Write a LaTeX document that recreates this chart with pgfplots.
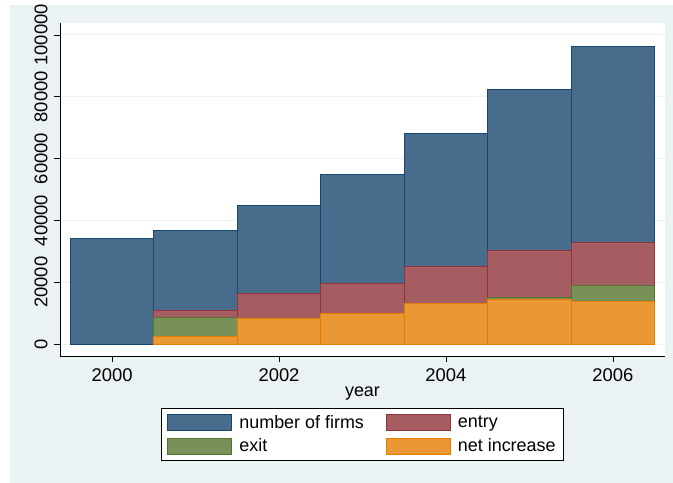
\documentclass[border=0pt]{standalone}
\usepackage{pgfplots}
\pgfplotsset{compat=1.18}
\usepackage{fontspec}
\setmainfont{Liberation Sans}

\definecolor{sbg}{RGB}{234,242,243}
\definecolor{snavy}{RGB}{26,71,111}
\definecolor{smaroon}{RGB}{144,53,59}
\definecolor{sgreen}{RGB}{85,117,47}
\definecolor{sorange}{RGB}{227,126,0}

\pgfplotsset{
  sbar/.style={ybar, bar width=1, bar shift=0pt, line width=1bp,
    legend image code/.code={\draw[##1] (0bp,-8bp) rectangle (64bp,8bp);}},
}

\begin{document}
\begin{tikzpicture}
\fill[white] (0,0) rectangle (673bp,483bp);
\fill[sbg] (10bp,0) rectangle (673bp,478bp);
\begin{axis}[
  at={(60bp,127bp)}, anchor=south west,
  scale only axis, width=605bp, height=333bp,
  axis background/.style={fill=white},
  xmin=1999.377, xmax=2006.623, ymin=-3880, ymax=103880,
  axis lines*=left, axis line style={black, line width=0.8pt, -},
  tick align=outside, major tick length=6bp,
  tick style={black, line width=0.8pt},
  xtick={2000,2002,2004,2006},
  ytick={0,20000,40000,60000,80000,100000},
  xticklabels={2000,2002,2004,2006},
  yticklabels={0,20000,40000,60000,80000,100000},
  scaled ticks=false,
  ymajorgrids, major grid style={sbg, line width=1bp},
  tick label style={font=\fontsize{18.5}{20}\selectfont},
  xticklabel style={anchor=center, yshift=-13bp},
  yticklabel style={rotate=90, anchor=center, yshift=13bp},
  xlabel={year},
  xlabel style={at={(axis description cs:0.5,0)}, anchor=center, yshift=-38bp,
    font=\fontsize{18}{20}\selectfont},
  legend columns=2,
  legend cell align=left,
  legend style={at={(0.5,0)}, anchor=north, yshift=-52bp, draw=black,
    line width=0.6pt, fill=white, font=\fontsize{18}{20}\selectfont,
    inner xsep=6bp, inner ysep=5bp, row sep=5bp,
    /tikz/every odd column/.append style={column sep=5bp},
    /tikz/every even column/.append style={column sep=20bp}},
]
\addplot[sbar, fill=snavy!80!white, draw=snavy] coordinates {
  (2000,34300) (2001,36600) (2002,44700) (2003,54700)
  (2004,68000) (2005,82200) (2006,96400)
};
\addlegendentry{number of firms}
\addplot[sbar, fill=smaroon!80!white, draw=smaroon] coordinates {
  (2001,11000) (2002,16500) (2003,19600)
  (2004,25200) (2005,30200) (2006,32900)
};
\addlegendentry{entry}
\addplot[sbar, fill=sgreen!80!white, draw=sgreen] coordinates {
  (2001,8700) (2002,8400) (2003,9700)
  (2004,12200) (2005,15100) (2006,18900)
};
\addlegendentry{exit}
\addplot[sbar, fill=sorange!80!white, draw=sorange] coordinates {
  (2001,2300) (2002,8100) (2003,9900)
  (2004,13000) (2005,14500) (2006,13900)
};
\addlegendentry{net increase}
\end{axis}
\end{tikzpicture}
\end{document}
